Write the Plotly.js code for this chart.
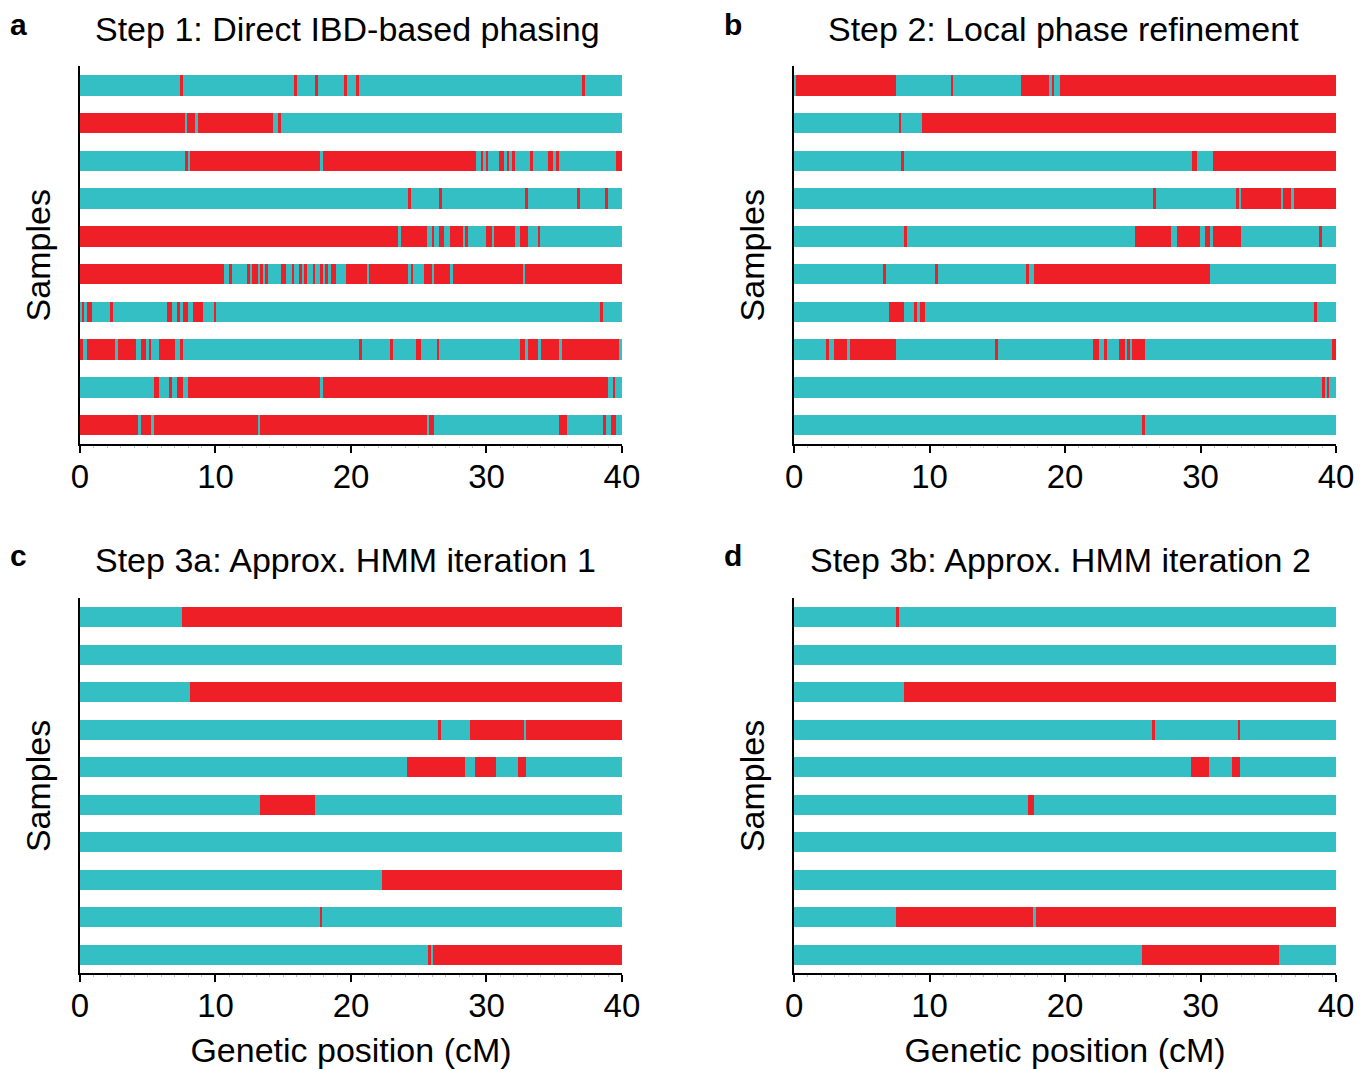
<!DOCTYPE html>
<html>
<head>
<meta charset="utf-8">
<script src="https://cdn.plot.ly/plotly-3.0.1.min.js"></script>
<style>html,body{margin:0;padding:0;background:#fff;}#chart{width:1370px;height:1070px;}</style>
</head>
<body>
<div id="chart"></div>
<script>
// ---- data (genetic positions in cM where the phase colour switches) ----
const rowIds = [0,1,2,3,4,5,6,7,8,9];
const xTicks = [0,10,20,30,40];
const chromLength = 40;

const panelTitles = ['Step 1: Direct IBD-based phasing','Step 2: Local phase refinement',
                     'Step 3a: Approx. HMM iteration 1','Step 3b: Approx. HMM iteration 2'];
const panelLetters = ['a','b','c','d'];

// panel a: first colour per row and switch points
const step1First = ['teal','red','teal','teal','red','red','teal','red','teal','red'];
const step1Switch = [
  [7.38,7.58,15.8,16.0,17.37,17.54,19.48,19.68,20.37,20.56,37.07,37.27],
  [7.75,7.92,8.51,8.71,14.27,14.64,14.81],
  [7.75,7.95,8.12,17.71,17.91,29.23,29.57,29.77,29.94,30.14,30.92,31.31,31.49,31.68,31.88,32.08,33.22,33.41,34.56,34.93,35.13,35.32,39.53],
  [24.21,24.40,26.52,26.69,32.84,33.04,36.70,36.90,38.77,38.97],
  [23.47,23.67,25.58,25.95,26.13,26.52,26.89,27.28,28.29,28.44,28.66,29.96,30.38,30.55,32.10,32.47,33.04,33.80,33.97],
  [10.63,10.97,11.19,12.35,12.55,12.72,13.11,13.28,13.48,13.65,13.85,14.83,15.20,15.62,15.82,16.16,16.41,16.51,16.73,17.17,17.34,17.71,17.91,18.11,18.28,18.52,18.87,19.63,21.16,21.35,24.21,24.40,24.60,25.39,25.95,26.13,27.31,27.50,32.67,32.84],
  [0.12,0.32,0.49,0.89,2.21,2.41,6.42,6.79,7.18,7.38,7.58,7.97,8.34,9.10,9.86,10.06,38.38,38.57],
  [0.25,0.49,2.58,2.78,4.11,4.50,4.90,5.07,5.26,5.83,7.01,7.38,7.58,20.56,20.79,22.88,23.08,24.80,25.19,26.32,26.52,32.47,32.86,33.04,33.80,33.99,35.35,35.54,39.75],
  [5.44,5.85,6.59,6.79,7.18,7.58,7.95,17.71,17.91,38.99,39.31,39.51],
  [4.31,4.50,5.26,5.46,13.11,13.28,25.58,25.76,26.15,35.35,35.92,38.60,38.79,39.16,39.56]
];

// panel b
const step2First = ['teal','teal','teal','teal','teal','teal','teal','teal','teal','teal'];
const step2Switch = [
  [0.12,7.55,11.56,11.76,16.75,18.84,19.02,19.19,19.6],
  [7.75,7.92,9.45],
  [7.92,8.12,29.37,29.77,30.92],
  [26.52,26.69,32.64,32.84,33.01,35.92,36.09,36.68,36.88],
  [8.12,8.32,25.17,27.85,28.24,29.96,30.33,30.70,30.90,33.01,38.77,38.97],
  [6.59,6.79,10.43,10.63,17.12,17.34,17.71,30.70],
  [6.99,8.12,8.88,9.08,9.27,9.64,38.38,38.57],
  [2.36,2.58,2.95,3.94,4.11,7.55,14.83,15.03,22.09,22.49,22.88,23.08,24.01,24.40,24.58,24.80,24.97,25.93,39.73],
  [38.97,39.16,39.31,39.51],
  [25.71,25.90]
];

// panel c
const step3aFirst = ['teal','teal','teal','teal','teal','teal','teal','teal','teal','teal'];
const step3aSwitch = [
  [7.56],
  [],
  [8.14],
  [26.45,26.66,28.79,32.78,32.93],
  [24.16,28.39,29.15,30.68,32.36,32.93],
  [13.32,17.31],
  [],
  [22.27],
  [17.68,17.86],
  [25.71,25.90,26.05]
];

// panel d
const step3bFirst = ['teal','teal','teal','teal','teal','teal','teal','teal','teal','teal'];
const step3bSwitch = [
  [7.56,7.75],
  [],
  [8.14],
  [26.45,26.66,32.75,32.93],
  [29.28,30.62,32.33,32.93],
  [17.26,17.68],
  [],
  [],
  [7.56,17.65,17.83],
  [25.66,35.80]
];

// ---- styling ----
const COLORS = {teal:'#33BFC4', red:'#EE1F26'};
const FONT = 'Liberation Sans, Arial, Helvetica, sans-serif';
const BAR_W = 0.54;

const panels = [
  {first: step1First, sw: step1Switch, xa:'x',  ya:'y'},
  {first: step2First, sw: step2Switch, xa:'x2', ya:'y2'},
  {first: step3aFirst, sw: step3aSwitch, xa:'x3', ya:'y3'},
  {first: step3bFirst, sw: step3bSwitch, xa:'x4', ya:'y4'}
];

const traces = [];
panels.forEach(p => {
  const seg = {teal:{y:[],base:[],x:[]}, red:{y:[],base:[],x:[]}};
  rowIds.forEach(r => {
    const bounds = [0].concat(p.sw[r], [chromLength]);
    let col = p.first[r];
    for (let i = 0; i < bounds.length - 1; i++) {
      seg[col].y.push(r);
      seg[col].base.push(bounds[i]);
      seg[col].x.push(bounds[i+1] - bounds[i]);
      col = (col === 'teal') ? 'red' : 'teal';
    }
  });
  ['teal','red'].forEach(c => {
    traces.push({
      type:'bar', orientation:'h',
      y: seg[c].y, base: seg[c].base, x: seg[c].x,
      width: BAR_W,
      marker:{color: COLORS[c], line:{width:0}},
      xaxis: p.xa, yaxis: p.ya,
      showlegend:false, hoverinfo:'skip'
    });
  });
});

const xDomL = [0.0584, 0.4540], xDomR = [0.5796, 0.9752];
const yDomT = [0.5850, 0.9379], yDomB = [0.0903, 0.4407];

function xAxis(domain, anchor, withTitle) {
  const ax = {
    domain: domain, anchor: anchor, range:[0, chromLength],
    tickvals: xTicks, ticktext: xTicks.map(String),
    ticks:'outside', ticklen:7, tickwidth:2, tickcolor:'#000',
    ticklabelstandoff: -5,
    minor:{dtick:1, ticks:'outside', ticklen:2, tickwidth:1, tickcolor:'#bbb'},
    showline:true, linewidth:2, linecolor:'#000',
    showgrid:false, zeroline:false,
    tickfont:{family:FONT, size:33, color:'#000'},
    fixedrange:true
  };
  if (withTitle) {
    ax.title = {text:'Genetic position (cM)', font:{family:FONT, size:34, color:'#000'}, standoff:15};
  }
  return ax;
}
function yAxis(domain, anchor) {
  return {
    domain: domain, anchor: anchor, range:[9.5, -0.5],
    showticklabels:false, ticks:'',
    showline:true, linewidth:2, linecolor:'#000',
    showgrid:false, zeroline:false,
    title:{text:'Samples', font:{family:FONT, size:34, color:'#000'}, standoff:17},
    fixedrange:true
  };
}

const annos = [];
const titlePos = [[348, 29],[1063, 29],[345, 560],[1060, 560]];
const letterPos = [[18, 24],[733, 24],[18, 555],[733, 555]];
panelTitles.forEach((t, i) => {
  annos.push({text:t, xref:'paper', yref:'paper', x:titlePos[i][0]/1370, y:1 - titlePos[i][1]/1070,
    xanchor:'center', yanchor:'middle', showarrow:false, font:{family:FONT, size:34, color:'#000'}});
  annos.push({text:'<b>'+panelLetters[i]+'</b>', xref:'paper', yref:'paper', x:letterPos[i][0]/1370, y:1 - letterPos[i][1]/1070,
    xanchor:'center', yanchor:'middle', showarrow:false, font:{family:FONT, size:30, color:'#000'}});
});

const layout = {
  width:1370, height:1070,
  margin:{l:0, r:0, t:0, b:0},
  paper_bgcolor:'#fff', plot_bgcolor:'#fff',
  barmode:'overlay', bargap:0,
  showlegend:false,
  xaxis: xAxis(xDomL, 'y', false),
  yaxis: yAxis(yDomT, 'x'),
  xaxis2: xAxis(xDomR, 'y2', false),
  yaxis2: yAxis(yDomT, 'x2'),
  xaxis3: xAxis(xDomL, 'y3', true),
  yaxis3: yAxis(yDomB, 'x3'),
  xaxis4: xAxis(xDomR, 'y4', true),
  yaxis4: yAxis(yDomB, 'x4'),
  annotations: annos
};

Plotly.newPlot('chart', traces, layout, {displayModeBar:false, staticPlot:true});
</script>
</body>
</html>
